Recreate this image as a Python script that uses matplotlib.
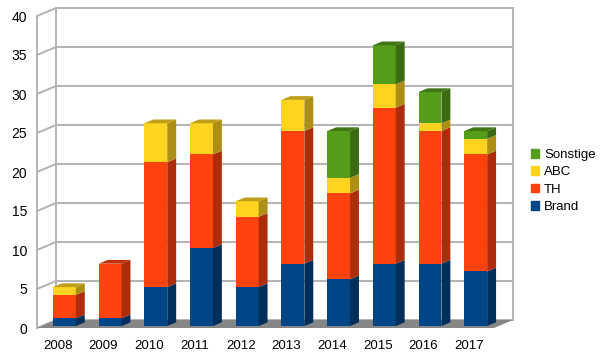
import matplotlib.pyplot as plt
from matplotlib.patches import Polygon, Patch
from matplotlib.transforms import IdentityTransform, ScaledTranslation
import numpy as np

years = ['2008', '2009', '2010', '2011', '2012', '2013', '2014', '2015', '2016', '2017']
brand = [1, 1, 5, 10, 5, 8, 6, 8, 8, 7]
th = [3, 7, 16, 12, 9, 17, 11, 20, 17, 15]
abc = [1, 0, 5, 4, 2, 4, 2, 3, 1, 2]
sonstige = [0, 0, 0, 0, 0, 0, 6, 5, 4, 1]

series = [('Brand', brand, '#004586'), ('TH', th, '#ff420e'),
          ('ABC', abc, '#ffd320'), ('Sonstige', sonstige, '#579d1c')]

plt.rcParams['font.family'] = ['Liberation Sans', 'DejaVu Sans']

fig = plt.figure(figsize=(6.06, 3.61), dpi=100)
ax = fig.add_axes([37 / 606, 33 / 361, 457 / 606, 312 / 361])
ax.set_xlim(-0.5, 9.5)
ax.set_ylim(0, 40)
ax.set_autoscale_on(False)
for s in ax.spines.values():
    s.set_visible(False)
ax.patch.set_visible(False)

# depth direction of the fake 3d view, in pixels
DX, DY = 19, 8
grid_c = '#b3b3b3'
ident = IdentityTransform()


def px(x, y, d):
    X, Y = ax.transData.transform((x, y))
    return (X + d * DX, Y + d * DY)


def dark(c, f):
    r, g, b = [int(c[i:i + 2], 16) / 255 for i in (1, 3, 5)]
    return (r * f, g * f, b * f)


# floor
ax.add_patch(Polygon([px(-0.5, 0, 0), px(9.5, 0, 0), px(9.5, 0, 1), px(-0.5, 0, 1)],
                     closed=True, facecolor='#868686', edgecolor='none',
                     transform=ident, clip_on=False, zorder=1))

# back wall grid and left wall
ticks = np.arange(0, 41, 5)
for v in ticks:
    ax.plot(*zip(px(-0.5, v, 1), px(9.5, v, 1)), color=grid_c, lw=1.4,
            transform=ident, clip_on=False, zorder=0.5)
    ax.plot(*zip(px(-0.5, v, 0), px(-0.5, v, 1)), color=grid_c, lw=1.4,
            transform=ident, clip_on=False, zorder=0.5)
for x0, d in [(-0.5, 0), (-0.5, 1), (9.5, 1)]:
    ax.plot(*zip(px(x0, 0, d), px(x0, 40, d)), color=grid_c, lw=1.4,
            transform=ident, clip_on=False, zorder=0.5)

# bars
w = 0.5
d0, d1 = 0.24, 0.71
front = ax.transData + ScaledTranslation(d0 * DX / 100, d0 * DY / 100, fig.dpi_scale_trans)
x = np.arange(len(years))
bottom = np.zeros(len(years))
totals = np.sum([s[1] for s in series], axis=0)
for name, vals, col in series:
    vals = np.array(vals, dtype=float)
    ax.bar(x, vals, w, bottom=bottom, color=col, transform=front, zorder=2)
    for i in range(len(years)):
        if vals[i] <= 0:
            continue
        y0, y1 = bottom[i], bottom[i] + vals[i]
        xr = x[i] + w / 2
        ax.add_patch(Polygon([px(xr, y0, d0), px(xr, y0, d1), px(xr, y1, d1), px(xr, y1, d0)],
                             closed=True, facecolor=dark(col, 0.68), edgecolor='none',
                             transform=ident, clip_on=False, zorder=2))
        if y1 == totals[i]:
            xl = x[i] - w / 2
            ax.add_patch(Polygon([px(xl, y1, d0), px(xr, y1, d0), px(xr, y1, d1), px(xl, y1, d1)],
                                 closed=True, facecolor=dark(col, 0.75), edgecolor='none',
                                 transform=ident, clip_on=False, zorder=2))
    bottom += vals

ax.set_xticks(x)
ax.set_xticklabels(years, fontsize=9.5)
ax.set_yticks(ticks)
ax.set_yticklabels([str(t) for t in ticks], fontsize=10)
ax.tick_params(axis='both', length=0)
ax.tick_params(axis='x', pad=8.5)
ax.tick_params(axis='y', pad=7)
for lab in ax.get_xticklabels():
    lab.set_transform(lab.get_transform() + ScaledTranslation(-0.02, 0, fig.dpi_scale_trans))

handles = [Patch(color=c) for _, _, c in series[::-1]]
labels = [n for n, _, _ in series[::-1]]
fig.legend(handles, labels, loc='center left', bbox_to_anchor=(519 / 606, 180 / 361),
           frameon=False, fontsize=9.5, handlelength=0.65, handleheight=0.65,
           handletextpad=0.35, labelspacing=0.4)

fig.savefig('out.png', dpi=100)
